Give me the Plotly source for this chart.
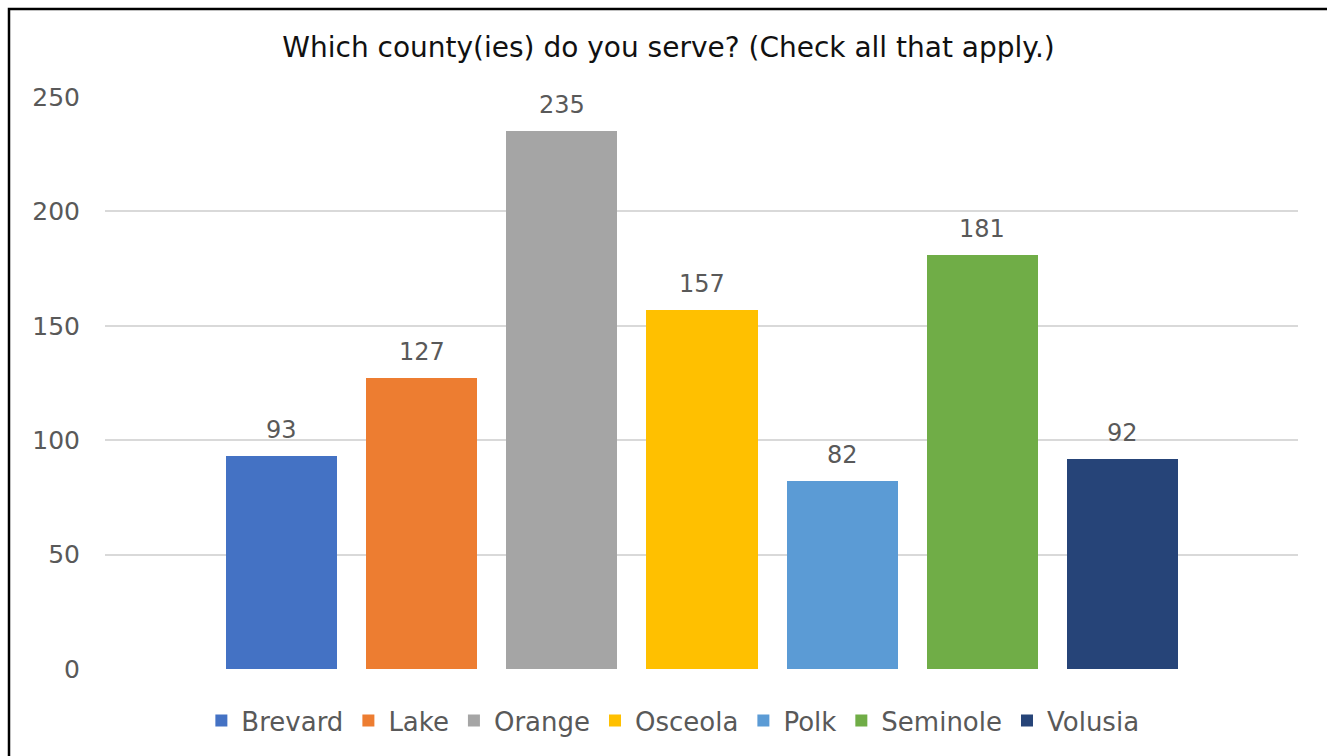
import plotly.graph_objects as go

counties = ["Brevard", "Lake", "Orange", "Osceola", "Polk", "Seminole", "Volusia"]
counts = [93, 127, 235, 157, 82, 181, 92]
colors = ["#4472C4", "#ED7D31", "#A5A5A5", "#FFC000", "#5B9BD5", "#70AD47", "#264478"]
y_ticks = [0, 50, 100, 150, 200, 250]
title_text = "Which county(ies) do you serve? (Check all that apply.)"

FONT = "DejaVu Sans"
fig = go.Figure()
for i, (name, val, col) in enumerate(zip(counties, counts, colors)):
    fig.add_trace(go.Bar(
        x=[i], y=[val], name=name, marker=dict(color=col, line=dict(width=0)),
        width=0.793, hoverinfo="name+y",
    ))
    fig.add_annotation(x=i, y=val, text=str(val), showarrow=False,
                       yanchor="bottom", yshift=10,
                       font=dict(family=FONT, size=24, color="#595959"))

fig.update_layout(
    width=1327, height=756,
    margin=dict(l=105, r=29, t=97, b=87),
    paper_bgcolor="white", plot_bgcolor="white",
    title=dict(text=title_text, x=(668.5 - 105) / 1193, xref="paper", xanchor="center",
               y=1 - 47/756, yanchor="middle",
               font=dict(family=FONT, size=28, color="#111111")),
    showlegend=True,
    legend=dict(orientation="h", x=0.476, xanchor="center", y=-0.09, yanchor="middle",
                font=dict(family=FONT, size=26, color="#595959"),
                traceorder="normal", itemwidth=30),
    bargap=0,
)
fig.update_xaxes(range=[-1.2607, 7.2536], showticklabels=False, showgrid=False,
                 zeroline=False, showline=False, fixedrange=True)
fig.update_yaxes(range=[0, 250], tickvals=y_ticks, showgrid=True, gridcolor="#D9D9D9",
                 gridwidth=1.5, zeroline=False, showline=False,
                 tickfont=dict(family=FONT, size=25, color="#595959"),
                 ticklabelstandoff=24)
fig.add_shape(type="rect", xref="paper", yref="paper",
              x0=(9 - 105) / 1193, x1=1.2, y0=-0.3, y1=(669 - 9) / 572,
              line=dict(color="black", width=2.5), fillcolor="rgba(0,0,0,0)", layer="above")
fig.write_html("out.html")
